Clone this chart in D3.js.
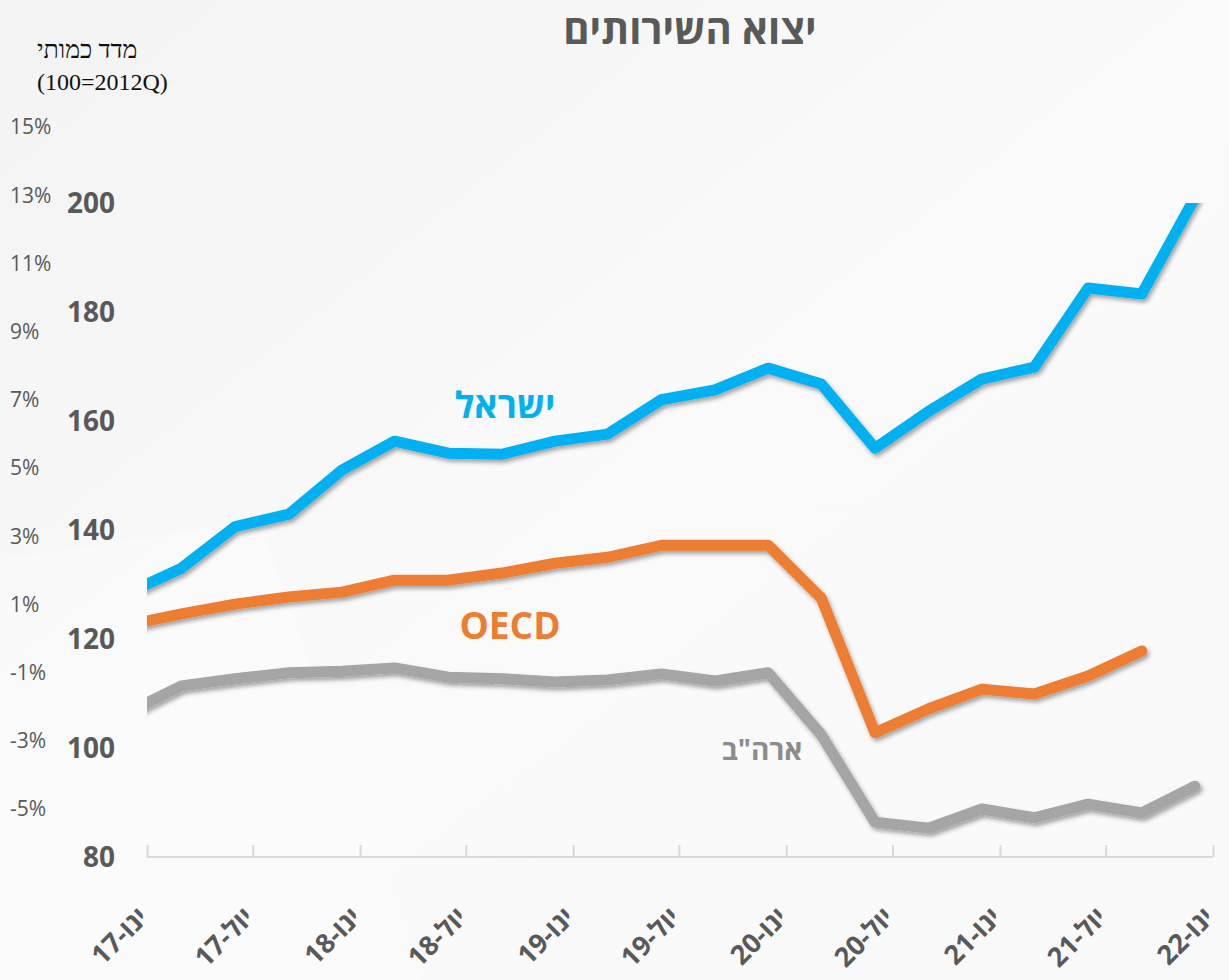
<!DOCTYPE html>
<html lang="he">
<head>
<meta charset="utf-8">
<script src="https://cdn.jsdelivr.net/npm/d3@7"></script>
<style>
    html, body { margin: 0; padding: 0; background: #f7f7f7; }
    svg { display: block; font-family: 'Open Sans', 'Liberation Sans', 'DejaVu Sans', sans-serif; }
</style>
</head>
<body>
<div id="chart"></div>
<script>
// Data //
const quarters = ['2016-12', '2017-03', '2017-06', '2017-09', '2017-12', '2018-03', '2018-06', '2018-09', '2018-12',
    '2019-03', '2019-06', '2019-09', '2019-12', '2020-03', '2020-06', '2020-09', '2020-12', '2021-03', '2021-06', '2021-09', '2021-12']

const israel = [128.5, 133.0, 140.6, 142.9, 151.0, 156.3, 154.1, 153.9, 156.3, 157.6, 163.9, 165.7, 169.7, 166.8,
    155.0, 161.8, 167.7, 169.9, 184.4, 183.3, 201]
const oecd = [122.6, 124.6, 126.4, 127.7, 128.6, 130.8, 130.8, 132.1, 133.9, 135.0, 137.2, 137.2, 137.2, 127.5,
    102.8, 107.2, 110.8, 109.9, 113.2, 117.8, null]
const usa = [106.6, 111.4, 112.7, 113.8, 114.1, 114.7, 113.0, 112.7, 112.1, 112.5, 113.6, 112.3, 113.8, 102.4,
    86.4, 85.3, 88.8, 87.2, 89.7, 88.1, 93.0]

const indexTicks = [80, 100, 120, 140, 160, 180, 200]
const pctTicks = [-5, -3, -1, 1, 3, 5, 7, 9, 11, 13, 15]
const monthNames = ['ינו', 'יול']

// Setup //
const width = 1229
const height = 980
const plot = { left: 147, right: 1213, top: 203, bottom: 857 }
const textColor = '#595959'

const parseMonth = d3.timeParse('%Y-%m')

const x = d3.scaleTime()
    .domain([new Date(2017, 0, 1), new Date(2022, 0, 1)])
    .range([plot.left, plot.right])

const y = d3.scaleLinear()
    .domain([80, 200])
    .range([plot.bottom, plot.top])

const yPct = d3.scaleLinear()
    .domain([-5, 15])
    .range([809, 127])

const svg = d3.select('#chart').append('svg')
    .attr('width', width)
    .attr('height', height)

const defs = svg.append('defs')

const bg = defs.append('linearGradient')
    .attr('id', 'bg')
    .attr('x1', 0).attr('y1', 0).attr('x2', 1).attr('y2', 1)
bg.append('stop').attr('offset', '0%').attr('stop-color', '#f3f3f3')
bg.append('stop').attr('offset', '50%').attr('stop-color', '#fafafa')
bg.append('stop').attr('offset', '100%').attr('stop-color', '#f9f9f9')

const shadow = defs.append('filter')
    .attr('id', 'shadow')
    .attr('x', '-10%').attr('y', '-10%').attr('width', '120%').attr('height', '130%')
shadow.append('feDropShadow')
    .attr('dx', 2)
    .attr('dy', 3)
    .attr('stdDeviation', 2)
    .attr('flood-color', '#000')
    .attr('flood-opacity', 0.35)

defs.append('clipPath')
    .attr('id', 'plot-clip')
    .append('rect')
        .attr('x', plot.left)
        .attr('y', plot.top)
        .attr('width', plot.right - plot.left + 10)
        .attr('height', plot.bottom - plot.top)

svg.append('rect')
    .attr('width', width)
    .attr('height', height)
    .attr('fill', 'url(#bg)')

// faint background shapes
svg.append('path')
    .attr('d', 'M0,560 L260,520 L420,980 L0,980 Z')
    .attr('fill', '#ffffff')
    .attr('opacity', 0.3)

// Title //
svg.append('text')
    .attr('x', 690)
    .attr('y', 44)
    .attr('text-anchor', 'middle')
    .attr('font-size', 40)
    .attr('font-weight', 700)
    .attr('fill', textColor)
    .text('יצוא השירותים')

svg.append('text')
    .attr('x', 37)
    .attr('y', 58)
    .attr('font-family', "'Liberation Serif', serif")
    .attr('font-size', 25)
    .attr('fill', '#111')
    .text('מדד כמותי')

svg.append('text')
    .attr('x', 37)
    .attr('y', 90)
    .attr('font-family', "'Liberation Serif', serif")
    .attr('font-size', 24)
    .attr('fill', '#111')
    .text('(100=2012Q)')

// Axes //
svg.append('g')
    .selectAll('text')
    .data(pctTicks)
    .enter()
    .append('text')
        .attr('x', 10)
        .attr('y', d => yPct(d))
        .attr('dy', '0.35em')
        .attr('font-size', 21)
        .attr('fill', textColor)
        .text(d => `${d}%`)

svg.append('g')
    .selectAll('text')
    .data(indexTicks)
    .enter()
    .append('text')
        .attr('x', 115)
        .attr('y', d => y(d))
        .attr('dy', '0.35em')
        .attr('text-anchor', 'end')
        .attr('font-size', 28)
        .attr('font-weight', 700)
        .attr('fill', textColor)
        .text(d => d)

const xTicks = d3.timeMonth.every(6).range(new Date(2017, 0, 1), new Date(2022, 0, 2))

const xAxis = svg.append('g')
    .attr('transform', `translate(0,${plot.bottom})`)
    .call(d3.axisBottom(x).tickValues(xTicks).tickSize(-12).tickFormat(''))

xAxis.select('.domain').remove()
xAxis.append('line')
    .attr('x1', plot.left)
    .attr('x2', plot.right)
    .attr('stroke', '#d9d9d9')
    .attr('stroke-width', 2)
xAxis.selectAll('.tick line')
    .attr('stroke', '#d9d9d9')
    .attr('stroke-width', 2)

svg.append('g')
    .selectAll('text')
    .data(xTicks)
    .enter()
    .append('text')
        .attr('transform', d => `translate(${x(d) + 3},${plot.bottom + 62}) rotate(-45)`)
        .attr('text-anchor', 'end')
        .attr('font-size', 27)
        .attr('font-weight', 700)
        .attr('fill', textColor)
        .text(d => `${d3.timeFormat('%y')(d)}-${monthNames[d.getMonth() === 0 ? 0 : 1]}`)

// Lines //
const line = d3.line()
    .defined(d => d.value !== null)
    .x(d => x(d.date))
    .y(d => y(d.value))

const series = [
    { name: 'israel', values: israel, color: '#00b0f0' },
    { name: 'oecd', values: oecd, color: '#ed7d31' },
    { name: 'usa', values: usa, color: '#a5a5a5' },
]

const lines = svg.append('g')
    .attr('clip-path', 'url(#plot-clip)')

series.slice().reverse().forEach(s => {
    const points = quarters.map((q, i) => ({ date: parseMonth(q), value: s.values[i] }))

    lines.append('path')
        .datum(points)
        .attr('d', line)
        .attr('fill', 'none')
        .attr('stroke', s.color)
        .attr('stroke-width', 11)
        .attr('stroke-linejoin', 'round')
        .attr('stroke-linecap', 'round')
        .attr('filter', 'url(#shadow)')
})

// Labels //
svg.append('text')
    .attr('x', 505)
    .attr('y', 418)
    .attr('text-anchor', 'middle')
    .attr('font-size', 36)
    .attr('font-weight', 700)
    .attr('fill', '#00b0f0')
    .text('ישראל')

svg.append('text')
    .attr('x', 510)
    .attr('y', 639)
    .attr('text-anchor', 'middle')
    .attr('font-size', 37)
    .attr('font-weight', 700)
    .attr('fill', '#ed7d31')
    .text('OECD')

svg.append('text')
    .attr('x', 762)
    .attr('y', 760)
    .attr('text-anchor', 'middle')
    .attr('font-size', 28)
    .attr('font-weight', 700)
    .attr('fill', '#8c8c8c')
    .text('ארה"ב')
</script>
</body>
</html>
